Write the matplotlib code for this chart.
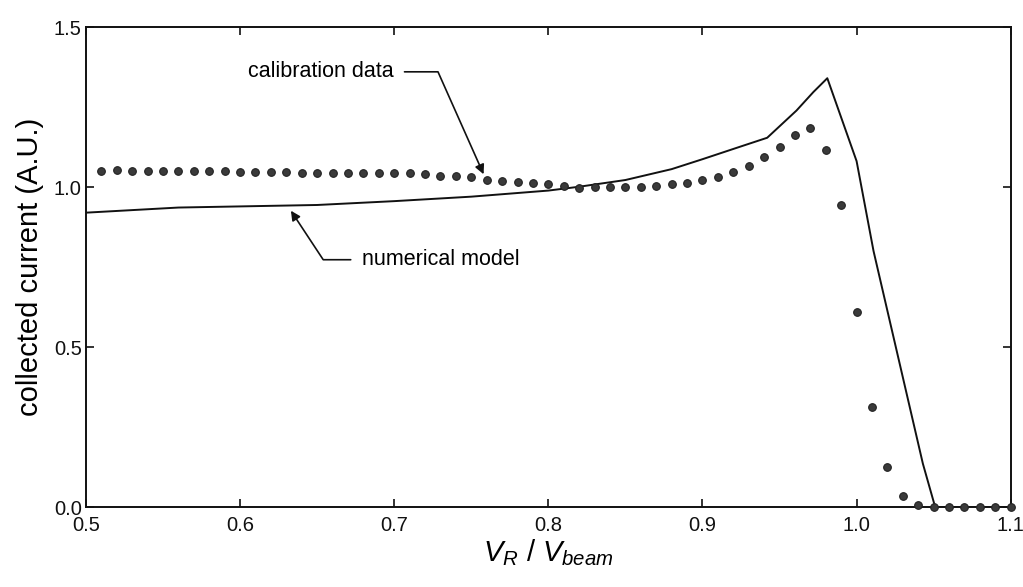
import matplotlib
matplotlib.use("Agg")
import matplotlib.pyplot as plt

plt.rcParams['font.family'] = ['Liberation Sans', 'DejaVu Sans']
plt.rcParams['mathtext.fontset'] = 'custom'
plt.rcParams['mathtext.it'] = 'Liberation Sans:italic'
plt.rcParams['mathtext.rm'] = 'Liberation Sans'

# calibration data (dots), V_R / V_beam = 0.51 ... 1.10
calib_x = [round(0.51 + 0.01 * i, 2) for i in range(60)]
calib_y = [1.051, 1.052, 1.051, 1.051, 1.051, 1.049, 1.049, 1.049, 1.049, 1.048,
           1.048, 1.048, 1.048, 1.044, 1.043, 1.044, 1.044, 1.044, 1.044, 1.045,
           1.044, 1.042, 1.036, 1.034, 1.030, 1.023, 1.020, 1.015, 1.012, 1.010,
           1.002, 0.998, 0.999, 1.001, 1.000, 1.001, 1.004, 1.010, 1.013, 1.022,
           1.032, 1.046, 1.067, 1.093, 1.125, 1.164, 1.184, 1.116, 0.943, 0.609,
           0.312, 0.127, 0.034, 0.006, 0.0, 0.0, 0.0, 0.0, 0.0, 0.0]

# numerical model (solid line)
model_x = [0.50, 0.56, 0.65, 0.70, 0.75, 0.80, 0.82, 0.85, 0.88, 0.90,
           0.925, 0.942, 0.961, 0.972, 0.981, 1.000, 1.011, 1.043, 1.051, 1.10]
model_y = [0.920, 0.936, 0.944, 0.956, 0.970, 0.989, 1.001, 1.022, 1.056, 1.087,
           1.127, 1.154, 1.239, 1.297, 1.340, 1.081, 0.800, 0.136, 0.0, 0.0]

xticks = [0.5, 0.6, 0.7, 0.8, 0.9, 1.0, 1.1]
yticks = [0.0, 0.5, 1.0, 1.5]

fig = plt.figure(figsize=(10.23, 5.87), dpi=100)
ax = fig.add_axes([0.084, 0.136, 0.904, 0.818])

ax.plot(model_x, model_y, color='#111111', lw=1.4)
ax.plot(calib_x, calib_y, ls='none', marker='o', ms=5.5,
        mfc='#3a3a3a', mec='#222222', mew=0.8, clip_on=False, zorder=3)

ax.set_xlim(0.5, 1.1)
ax.set_ylim(0.0, 1.5)
ax.set_xticks(xticks)
ax.set_yticks(yticks)
ax.set_xticklabels(['%.1f' % v for v in xticks])
ax.set_yticklabels(['%.1f' % v for v in yticks])
ax.tick_params(direction='in', length=6, width=1.2, top=True, right=True,
               labelsize=14.5, colors='#111111')
ax.tick_params(axis='x', pad=6)
ax.tick_params(axis='y', pad=3)
for s in ax.spines.values():
    s.set_linewidth(1.4)
    s.set_color('#111111')

ax.set_xlabel(r'$V_R\ /\ V_{beam}$', fontsize=21, labelpad=2)
ax.set_ylabel('collected current (A.U.)', fontsize=21, labelpad=7)

ax.annotate('calibration data', xy=(0.758, 1.04), xytext=(0.605, 1.36),
            ha='left', va='center', fontsize=15.5,
            arrowprops=dict(arrowstyle='-|>', color='#111111', lw=1.2,
                            mutation_scale=14, shrinkA=6, shrinkB=0,
                            connectionstyle='angle,angleA=0,angleB=114,rad=0'))
ax.annotate('numerical model', xy=(0.633, 0.926), xytext=(0.679, 0.773),
            ha='left', va='center', fontsize=15.5,
            arrowprops=dict(arrowstyle='-|>', color='#111111', lw=1.2,
                            mutation_scale=14, shrinkA=6, shrinkB=0,
                            connectionstyle='angle,angleA=180,angleB=-56.6,rad=0'))

fig.savefig('out.png', dpi=100)
